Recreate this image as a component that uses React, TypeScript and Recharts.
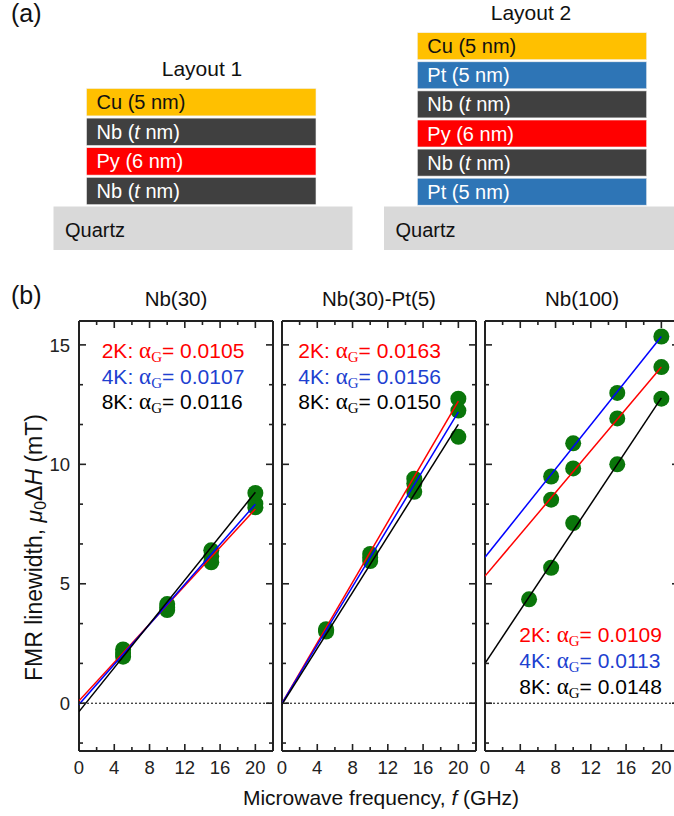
import React from 'react';
import { ComposedChart, Scatter, XAxis, YAxis, ReferenceLine } from 'recharts';

const SANS = '"Liberation Sans", Arial, Helvetica, sans-serif';
const SERIF = '"Liberation Serif", "DejaVu Serif", "Times New Roman", serif';

// ---------- data ----------
const xTicks = [0, 2, 4, 6, 8, 10, 12, 14, 16, 18, 20];
const yTicks = [-1.667, 0, 1.667, 3.333, 5, 6.667, 8.333, 10, 11.667, 13.333, 15];
const fitF = [0, 20];

// Nb(30)
const freqNb30 = [5, 10, 15, 20];
const nb30_2K = [1.95, 3.9, 5.9, 8.2];
const nb30_4K = [2.1, 4.0, 6.15, 8.35];
const nb30_8K = [2.25, 4.15, 6.4, 8.8];
const nb30Fit2K = [0.1, 8.13];
const nb30Fit4K = [-0.05, 8.33];
const nb30Fit8K = [-0.35, 8.83];

// Nb(30)-Pt(5)
const freqNbPt = [5, 10, 15, 20];
const nbPt_2K = [3.1, 6.25, 9.4, 12.75];
const nbPt_4K = [3.05, 6.1, 9.2, 12.25];
const nbPt_8K = [3.0, 5.95, 8.85, 11.15];
const nbPtFit2K = [0, 12.65];
const nbPtFit4K = [0, 12.2];
const nbPtFit8K = [-0.05, 11.67];

// Nb(100)
const freqNb100 = [7.5, 10, 15, 20];
const freqNb100_8K = [5, 7.5, 10, 15, 20];
const nb100_2K = [8.52, 9.83, 11.92, 14.07];
const nb100_4K = [9.49, 10.88, 12.99, 15.35];
const nb100_8K = [4.35, 5.67, 7.54, 10.0, 12.75];
const nb100Fit2K = [5.32, 14.07];
const nb100Fit4K = [6.11, 15.35];
const nb100Fit8K = [1.67, 12.78];

const panelTitles = ['Nb(30)', 'Nb(30)-Pt(5)', 'Nb(100)'];
const tempLabels = ['2K', '4K', '8K'];
const alphaNb30 = ['0.0105', '0.0107', '0.0116'];
const alphaNbPt = ['0.0163', '0.0156', '0.0150'];
const alphaNb100 = ['0.0109', '0.0113', '0.0148'];

// ---------- styles ----------
const AX = '#222222';
const GREEN = '#0a760a';
const LINE_COLORS = ['#ff0000', '#0000ff', '#000000'];
const TEXT_COLORS = ['#ff0000', '#2040d0', '#000000'];
const TW = 1.6; // tick thickness

const zip = (xs: number[], ys: number[]) => xs.map((x, i) => ({ x, y: ys[i] }));

const panels = [
  {
    plotLeft: 79,
    labels: true,
    pts: [zip(freqNb30, nb30_2K), zip(freqNb30, nb30_4K), zip(freqNb30, nb30_8K)],
    fits: [zip(fitF, nb30Fit2K), zip(fitF, nb30Fit4K), zip(fitF, nb30Fit8K)],
  },
  {
    plotLeft: 282,
    labels: false,
    pts: [zip(freqNbPt, nbPt_2K), zip(freqNbPt, nbPt_4K), zip(freqNbPt, nbPt_8K)],
    fits: [zip(fitF, nbPtFit2K), zip(fitF, nbPtFit4K), zip(fitF, nbPtFit8K)],
  },
  {
    plotLeft: 485,
    labels: false,
    pts: [zip(freqNb100, nb100_2K), zip(freqNb100, nb100_4K), zip(freqNb100_8K, nb100_8K)],
    fits: [zip(fitF, nb100Fit2K), zip(fitF, nb100Fit4K), zip(fitF, nb100Fit8K)],
  },
];

const isMajorX = (v: number) => Math.abs(v % 4) < 1e-6;
const isMajorY = (v: number) => Math.abs(v / 5 - Math.round(v / 5)) < 1e-3;

const makeXTick = (side: 'bottom' | 'top') => (props: any) => {
  const x = Number(props.x);
  const y = Number(props.y);
  const v = props.payload.value;
  const major = isMajorX(v);
  const len = major ? 7 : 4;
  const dir = side === 'bottom' ? -1 : 1;
  return (
    <g>
      <rect x={x - TW / 2} y={dir < 0 ? y - len : y} width={TW} height={len} fill={AX} />
      {side === 'bottom' && major ? (
        <text x={x} y={y + 23} textAnchor="middle" fontSize={18.5} fontFamily={SANS} fill="#222">
          {v}
        </text>
      ) : null}
    </g>
  );
};

const makeYTick = (side: 'left' | 'right', labels: boolean) => (props: any) => {
  const x = Number(props.x);
  const y = Number(props.y);
  const v = props.payload.value;
  const major = isMajorY(v);
  const len = major ? 7 : 4;
  const dir = side === 'left' ? 1 : -1;
  return (
    <g>
      <rect x={dir > 0 ? x : x - len} y={y - TW / 2} width={len} height={TW} fill={AX} />
      {side === 'left' && labels && major ? (
        <text x={x - 9} y={y + 6.7} textAnchor="end" fontSize={18.5} fontFamily={SANS} fill="#222">
          {Math.round(v)}
        </text>
      ) : null}
    </g>
  );
};

const Dot = (props: any) => <circle cx={props.cx} cy={props.cy} r={8} fill={GREEN} />;
const NoDot = () => <g />;

const bottomTick = makeXTick('bottom');
const topTick = makeXTick('top');
const rightTick = makeYTick('right', false);
const leftTickLabeled = makeYTick('left', true);
const leftTickPlain = makeYTick('left', false);

function Panel({ p }: { p: any }) {
  const W = 39 + 194 + 10;
  const H = 10 + 430 + 40;
  return (
    <div style={{ position: 'absolute', left: p.plotLeft - 39, top: 311 }}>
      <ComposedChart width={W} height={H} margin={{ top: 9, right: 9, bottom: 0, left: 0 }}>
        <XAxis
          xAxisId="b"
          type="number"
          dataKey="x"
          domain={[0, 22]}
          ticks={xTicks}
          interval={0}
          height={40}
          tickSize={0}
          tickMargin={0}
          tickLine={false}
          tick={bottomTick}
          axisLine={{ stroke: AX, strokeWidth: 2 }}
          allowDataOverflow
        />
        <XAxis
          xAxisId="t"
          orientation="top"
          type="number"
          dataKey="x"
          domain={[0, 22]}
          ticks={xTicks}
          interval={0}
          height={1}
          tickSize={0}
          tickMargin={0}
          tickLine={false}
          tick={topTick}
          axisLine={{ stroke: AX, strokeWidth: 2 }}
          allowDataOverflow
        />
        <YAxis
          yAxisId="l"
          type="number"
          dataKey="y"
          domain={[-2, 16]}
          ticks={yTicks}
          interval={0}
          width={39}
          tickSize={0}
          tickMargin={0}
          tickLine={false}
          tick={p.labels ? leftTickLabeled : leftTickPlain}
          axisLine={{ stroke: AX, strokeWidth: 2 }}
          allowDataOverflow
        />
        <YAxis
          yAxisId="r"
          orientation="right"
          type="number"
          dataKey="y"
          domain={[-2, 16]}
          ticks={yTicks}
          interval={0}
          width={1}
          tickSize={0}
          tickMargin={0}
          tickLine={false}
          tick={rightTick}
          axisLine={{ stroke: AX, strokeWidth: 2 }}
          allowDataOverflow
        />
        <ReferenceLine xAxisId="b" yAxisId="l" y={0} stroke="#000" strokeWidth={1} strokeDasharray="2 2" />
        {p.pts.map((d: any, i: number) => (
          <Scatter key={'p' + i} xAxisId="b" yAxisId="l" data={d} fill={GREEN} shape={Dot} isAnimationActive={false} />
        ))}
        {p.fits.map((d: any, i: number) => (
          <Scatter
            key={'f' + i}
            xAxisId="b"
            yAxisId="l"
            data={d}
            fill={LINE_COLORS[i]}
            line={{ stroke: LINE_COLORS[i], strokeWidth: 1.5 }}
            shape={NoDot}
            isAnimationActive={false}
          />
        ))}
      </ComposedChart>
    </div>
  );
}

function Alpha({ x, y, color, temp, val }: any) {
  return (
    <text x={x} y={y} fontSize={21} fontFamily={SANS} fill={color}>
      {temp}:{' '}
      <tspan fontFamily={SERIF} fontSize={23}>α</tspan>
      <tspan fontFamily={SERIF} fontSize={15} dy={4}>G</tspan>
      <tspan dy={-4}>= {val}</tspan>
    </text>
  );
}

const layout1 = [
  { name: 'Cu', thick: '5 nm', fill: '#ffc000', text: '#111' },
  { name: 'Nb', thick: 't', fill: '#404040', text: '#fff' },
  { name: 'Py', thick: '6 nm', fill: '#ff0000', text: '#fff' },
  { name: 'Nb', thick: 't', fill: '#404040', text: '#fff' },
];
const layout2 = [
  { name: 'Cu', thick: '5 nm', fill: '#ffc000', text: '#111' },
  { name: 'Pt', thick: '5 nm', fill: '#2e75b6', text: '#fff' },
  { name: 'Nb', thick: 't', fill: '#404040', text: '#fff' },
  { name: 'Py', thick: '6 nm', fill: '#ff0000', text: '#fff' },
  { name: 'Nb', thick: 't', fill: '#404040', text: '#fff' },
  { name: 'Pt', thick: '5 nm', fill: '#2e75b6', text: '#fff' },
];

function Stack({ layers, x, w, top, pitch, h }: any) {
  return (
    <g>
      {layers.map((l: any, i: number) => {
        const y = top + i * pitch;
        return (
          <g key={i}>
            <rect x={x} y={y} width={w} height={h} fill={l.fill} stroke="#f0f0f0" strokeWidth={0.6} />
            <text x={x + 10} y={y + h / 2 + 7} fontSize={20} fontFamily={SANS} fill={l.text}>
              {l.name} (
              {l.thick === 't' ? (
                <>
                  <tspan fontStyle="italic">t</tspan> nm
                </>
              ) : (
                l.thick
              )}
              )
            </text>
          </g>
        );
      })}
    </g>
  );
}

export default function App() {
  const ys = [357.5, 383.5, 409];
  const ys3 = [642, 668, 693.5];
  return (
    <div style={{ position: 'absolute', left: 0, top: 0, width: 674, height: 816, overflow: 'hidden', background: '#fff' }}>
      {panels.map((p, i) => (
        <Panel key={i} p={p} />
      ))}
      <svg width={674} height={816} style={{ position: 'absolute', left: 0, top: 0, pointerEvents: 'none' }}>
        <text x={11} y={22} fontSize={25} fontFamily={SANS} fill="#111">(a)</text>
        <text x={202} y={75.5} textAnchor="middle" fontSize={21} fontFamily={SANS} fill="#111">Layout 1</text>
        <text x={531} y={19.5} textAnchor="middle" fontSize={21} fontFamily={SANS} fill="#111">Layout 2</text>
        <rect x={53.5} y={206.5} width={299} height={43.5} fill="#d9d9d9" />
        <rect x={384} y={206.5} width={300} height={43.5} fill="#d9d9d9" />
        <text x={65} y={237} fontSize={20} fontFamily={SANS} fill="#111">Quartz</text>
        <text x={395.5} y={237} fontSize={20} fontFamily={SANS} fill="#111">Quartz</text>
        <Stack layers={layout1} x={86.5} w={229.5} top={88.5} pitch={29.6} h={27.4} />
        <Stack layers={layout2} x={417.3} w={229.4} top={32.7} pitch={29.1} h={27} />

        <text x={11} y={304} fontSize={25} fontFamily={SANS} fill="#111">(b)</text>
        {panelTitles.map((t, i) => (
          <text key={t} x={panels[i].plotLeft + 97} y={306} textAnchor="middle" fontSize={20.5} fontFamily={SANS} fill="#111">
            {t}
          </text>
        ))}
        {tempLabels.map((t, i) => (
          <Alpha key={'a1' + i} x={101.7} y={ys[i]} color={TEXT_COLORS[i]} temp={t} val={alphaNb30[i]} />
        ))}
        {tempLabels.map((t, i) => (
          <Alpha key={'a2' + i} x={298.3} y={ys[i]} color={TEXT_COLORS[i]} temp={t} val={alphaNbPt[i]} />
        ))}
        {tempLabels.map((t, i) => (
          <Alpha key={'a3' + i} x={519.3} y={ys3[i]} color={TEXT_COLORS[i]} temp={t} val={alphaNb100[i]} />
        ))}
        <text x={42} y={547.5} transform="rotate(-90 42 547.5)" textAnchor="middle" fontSize={23} fontFamily={SANS} fill="#111">
          FMR linewidth,{' '}
          <tspan fontStyle="italic">μ</tspan>
          <tspan fontSize={16} dy={4}>0</tspan>
          <tspan dy={-4}>Δ</tspan>
          <tspan fontStyle="italic">H</tspan> (mT)
        </text>
        <text x={381} y={805} textAnchor="middle" fontSize={21} fontFamily={SANS} fill="#111">
          Microwave frequency, <tspan fontStyle="italic">f</tspan> (GHz)
        </text>
      </svg>
    </div>
  );
}
